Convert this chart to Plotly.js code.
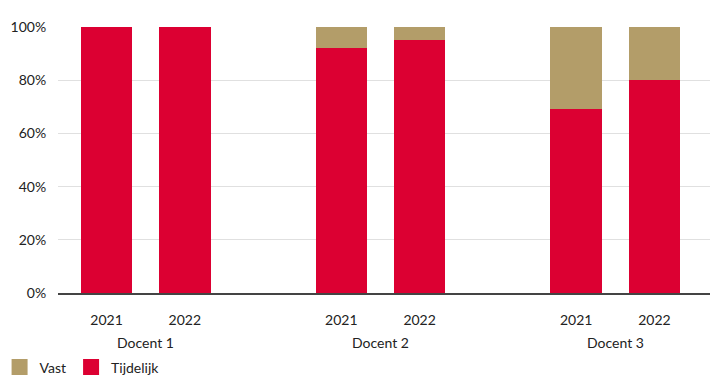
<!DOCTYPE html>
<html>
<head>
<meta charset="utf-8">
<script src="https://cdn.plot.ly/plotly-3.0.1.min.js"></script>
<style>html,body{margin:0;padding:0;background:#fff;}#chart{width:710px;height:378px;}</style>
</head>
<body>
<div id="chart"></div>
<script>
const docents = ["Docent 1", "Docent 2", "Docent 3"];
const years = ["2021", "2022"];
// values per docent, per year (percent)
const tijdelijk = [[100, 100], [92, 95], [69, 80]];
const vast = [[0, 0], [8, 5], [31, 20]];
const yTicks = [0, 20, 40, 60, 80, 100];
const yTickLabels = ["0%", "20%", "40%", "60%", "80%", "100%"];
const colors = {Tijdelijk: "#DC0032", Vast: "#B39D69"};

const xs = [], tij = [], vas = [], tickText = [];
docents.forEach((d, g) => {
  years.forEach((y, j) => {
    xs.push(g * 3 + j);
    tij.push(tijdelijk[g][j]);
    vas.push(vast[g][j]);
    tickText.push(y);
  });
});

const font = {family: "Lato, 'Noto Sans', sans-serif", size: 14, color: "#222"};

const data = [
  {type: "bar", name: "Tijdelijk", x: xs, y: tij, marker: {color: colors.Tijdelijk}, width: 0.66, showlegend: false},
  {type: "bar", name: "Vast", x: xs, y: vas, marker: {color: colors.Vast}, width: 0.66, showlegend: false},
  {type: "scatter", mode: "markers", name: "Tijdelijk", x: [null], y: [null],
   marker: {symbol: "square", size: 16, color: colors.Tijdelijk}},
  {type: "scatter", mode: "markers", name: "Vast", x: [null], y: [null],
   marker: {symbol: "square", size: 16, color: colors.Vast}}
];

const annotations = docents.map((d, g) => ({
  x: g * 3 + 0.5, xref: "x", y: 0, yref: "paper", yshift: -49,
  text: d, showarrow: false, font: font, yanchor: "middle"
}));

const layout = {
  width: 710, height: 378,
  margin: {l: 58, r: 0, t: 27, b: 85, autoexpand: false},
  barmode: "stack",
  bargap: 0,
  font: font,
  paper_bgcolor: "#fff", plot_bgcolor: "#fff",
  xaxis: {
    range: [-0.62, 7.71],
    tickmode: "array", tickvals: xs, ticktext: tickText,
    showgrid: false, zeroline: false,
    showline: true, linecolor: "#444", linewidth: 1.5,
    ticks: "outside", ticklen: 14, tickcolor: "rgba(0,0,0,0)",
    tickfont: font, fixedrange: true, automargin: false
  },
  yaxis: {
    range: [0, 100],
    tickmode: "array", tickvals: yTicks, ticktext: yTickLabels,
    showgrid: true, gridcolor: "#e0e0e0", gridwidth: 1,
    zeroline: false, showline: false,
    ticks: "outside", ticklen: 8, tickcolor: "rgba(0,0,0,0)",
    tickfont: font, fixedrange: true, automargin: false
  },
  showlegend: true,
  legend: {
    orientation: "h", x: -0.0896, xanchor: "left", y: -0.28, yanchor: "middle",
    traceorder: "reversed", font: font, itemwidth: 30, itemsizing: "trace"
  },
  annotations: annotations
};

Plotly.newPlot("chart", data, layout, {displayModeBar: false, staticPlot: true});
</script>
</body>
</html>
